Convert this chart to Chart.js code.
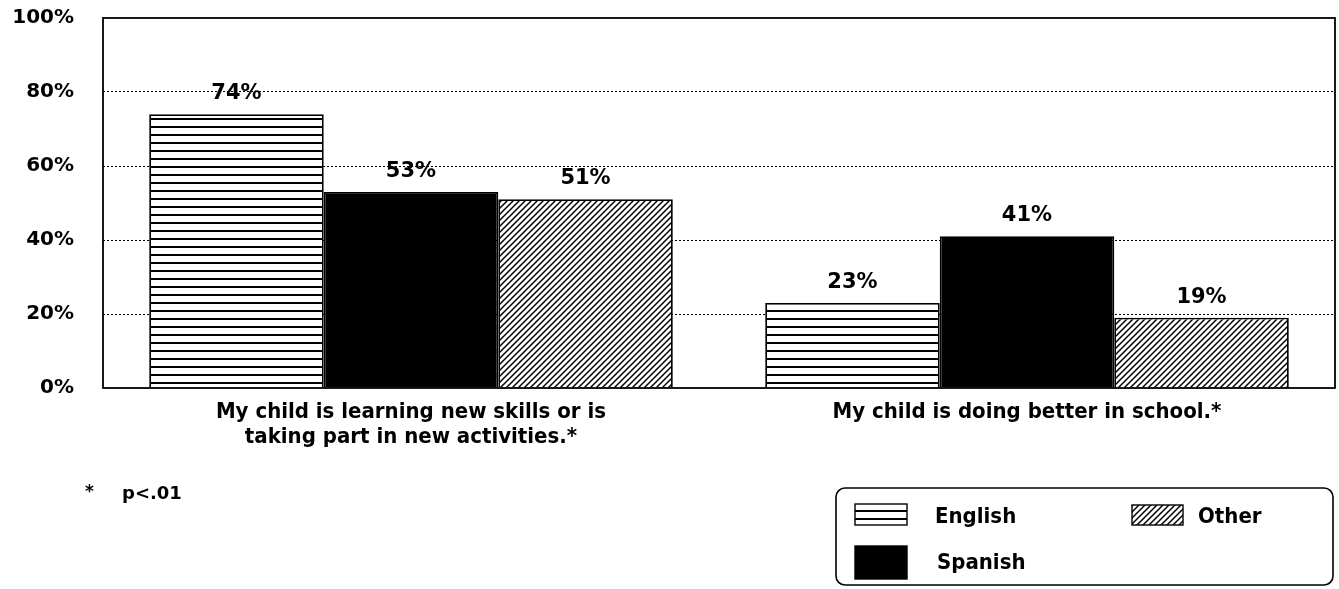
<!DOCTYPE html>
<html>
<head>
<meta charset="utf-8">
<script src="https://cdn.jsdelivr.net/npm/chart.js@4/dist/chart.umd.min.js"></script>
<style>
  html, body { margin: 0; padding: 0; background: #fff; }
  #wrap { width: 1339px; height: 589px; }
</style>
</head>
<body>
<div id="wrap"><canvas id="barChart" width="1339" height="589"></canvas></div>
<script>
const categories = [
    ['My child is learning new skills or is', 'taking part in new activities.*'],
    'My child is doing better in school.*'
];
const seriesNames = ['English', 'Spanish', 'Other'];
const englishValues = [74, 23];
const spanishValues = [53, 41];
const otherValues = [51, 19];
const yTicks = [0, 20, 40, 60, 80, 100];
const footnote = 'p<.01';

const FONT = "'DejaVu Sans', sans-serif";
const FONT_NARROW = "'DejaVu Sans Condensed', 'DejaVu Sans', sans-serif";

// fill patterns like the scanned print
function stripes() {
    const c = document.createElement('canvas');
    c.width = 8; c.height = 8;
    const g = c.getContext('2d');
    g.fillStyle = '#fff';
    g.fillRect(0, 0, 8, 8);
    g.fillStyle = '#000';
    g.fillRect(0, 6, 8, 2);
    return g.createPattern(c, 'repeat');
}

function hatch() {
    const s = 6;
    const c = document.createElement('canvas');
    c.width = s; c.height = s;
    const g = c.getContext('2d');
    g.fillStyle = '#fff';
    g.fillRect(0, 0, s, s);
    g.strokeStyle = '#000';
    g.lineWidth = 1.5;
    g.beginPath();
    g.moveTo(0, s); g.lineTo(s, 0);
    g.moveTo(-1, 1); g.lineTo(1, -1);
    g.moveTo(s - 1, s + 1); g.lineTo(s + 1, s - 1);
    g.stroke();
    return g.createPattern(c, 'repeat');
}

const fills = [stripes(), '#000', hatch()];

const valueLabels = {
    id: 'valueLabels',
    afterDatasetsDraw(chart) {
        const ctx = chart.ctx;
        ctx.save();
        ctx.fillStyle = '#000';
        ctx.font = 'bold 21px ' + FONT;
        ctx.textAlign = 'center';
        ctx.textBaseline = 'bottom';
        chart.data.datasets.forEach((ds, i) => {
            chart.getDatasetMeta(i).data.forEach((bar, j) => {
                ctx.fillText(ds.data[j] + '%', bar.x, bar.y - 10);
            });
        });
        ctx.restore();
    }
};

const frameAndLegend = {
    id: 'frameAndLegend',
    afterDraw(chart) {
        const ctx = chart.ctx;
        const a = chart.chartArea;
        ctx.save();
        ctx.strokeStyle = '#000';
        ctx.lineWidth = 1.8;
        ctx.strokeRect(a.left, a.top, a.right - a.left, a.bottom - a.top);

        // footnote
        ctx.fillStyle = '#000';
        ctx.textBaseline = 'middle';
        ctx.textAlign = 'left';
        ctx.font = 'bold 17px ' + FONT;
        ctx.fillText('*', 85, 493);
        ctx.font = 'bold 18px ' + FONT;
        ctx.fillText(footnote, 122, 494);

        // legend box
        const bx = 836, by = 488, bw = 497, bh = 97, r = 9;
        ctx.lineWidth = 1.6;
        ctx.beginPath();
        ctx.roundRect(bx, by, bw, bh, r);
        ctx.stroke();

        const items = [
            { x: 855, y: 504, w: 52, h: 21, tx: 935, ty: 517 },
            { x: 855, y: 546, w: 52, h: 33, tx: 937, ty: 563 },
            { x: 1132, y: 505, w: 51, h: 20, tx: 1198, ty: 517 }
        ];
        ctx.font = 'bold 22px ' + FONT_NARROW;
        items.forEach((it, i) => {
            ctx.fillStyle = fills[i];
            ctx.fillRect(it.x, it.y, it.w, it.h);
            ctx.lineWidth = 1.4;
            ctx.strokeRect(it.x, it.y, it.w, it.h);
            ctx.fillStyle = '#000';
            ctx.fillText(seriesNames[i], it.tx, it.ty);
        });
        ctx.restore();
    }
};

new Chart(document.getElementById('barChart'), {
    type: 'bar',
    data: {
        labels: categories,
        datasets: [englishValues, spanishValues, otherValues].map((vals, i) => ({
            label: seriesNames[i],
            data: vals,
            backgroundColor: fills[i],
            borderColor: '#000',
            borderWidth: 1.8,
            categoryPercentage: 0.85,
            barPercentage: 1.0
        }))
    },
    options: {
        responsive: false,
        animation: false,
        events: [],
        layout: { padding: { top: 18, right: 4, left: 0, bottom: 0 } },
        scales: {
            x: {
                grid: { display: false, drawTicks: false },
                border: { display: false },
                ticks: {
                    color: '#000',
                    font: { family: FONT_NARROW, size: 22, weight: 'bold', lineHeight: 1.14 },
                    padding: 12,
                    maxRotation: 0,
                    autoSkip: false
                },
                afterFit(scale) { scale.height = 201; }
            },
            y: {
                min: 0,
                max: 100,
                afterBuildTicks(scale) { scale.ticks = yTicks.map(v => ({ value: v })); },
                grid: {
                    drawTicks: false,
                    color: ctx => (ctx.tick.value === 0 || ctx.tick.value === 100) ? 'rgba(0,0,0,0)' : '#000',
                    lineWidth: 1
                },
                border: { display: false, dash: [2, 2] },
                ticks: {
                    color: '#000',
                    padding: 29,
                    font: { family: FONT, size: 20, weight: 'bold' },
                    callback: v => v + '%'
                },
                afterFit(scale) {
                    scale.width = 103;
                    scale.paddingTop = 0;
                    scale.paddingBottom = 0;
                }
            }
        },
        plugins: {
            legend: { display: false },
            tooltip: { enabled: false }
        }
    },
    plugins: [valueLabels, frameAndLegend]
});
</script>
</body>
</html>
